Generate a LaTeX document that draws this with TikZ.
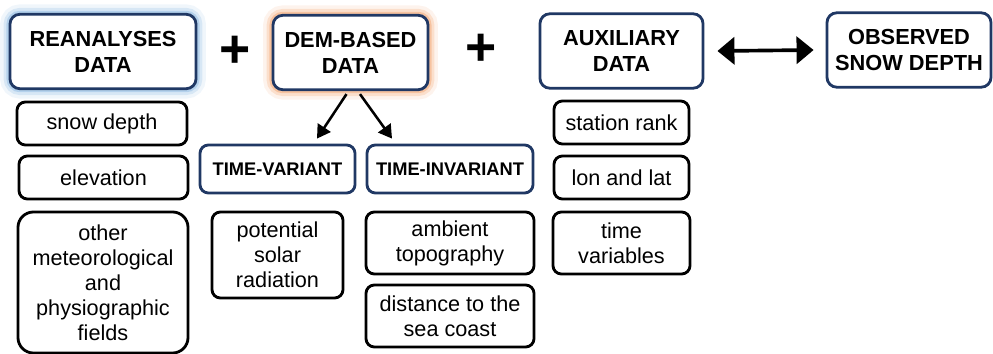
\documentclass[tikz,border=0pt]{standalone}
\usepackage{fontspec}
\setmainfont{Liberation Sans}
\usetikzlibrary{arrows.meta,calc,positioning}
\definecolor{navy}{HTML}{203864}
\definecolor{glowblue}{HTML}{9DC3E6}
\definecolor{gloworange}{HTML}{F4B183}

\tikzset{
	headbox/.style={draw=navy, line width=2pt, rounded corners=7pt, fill=white, align=center,
		inner sep=0pt, font=\fontsize{15.5}{18.5}\selectfont\bfseries},
	itembox/.style={draw=black, line width=2pt, rounded corners=6pt, fill=white, align=center,
		inner sep=0pt, font=\fontsize{15.4}{17.8}\selectfont},
	subbox/.style={draw=navy, line width=2pt, rounded corners=6pt, fill=white, align=center,
		inner sep=0pt, font=\fontsize{13}{15}\selectfont\bfseries},
	glow/.style={preaction={draw=#1, line width=14pt, opacity=0.15},
		preaction={draw=#1, line width=9pt, opacity=0.3},
		preaction={draw=#1, line width=5pt, opacity=0.6}},
}

\begin{document}
\begin{tikzpicture}[x=0.025cm,y=-0.025cm]
	\useasboundingbox (0,0) rectangle (993,354);

	% headers
	\begin{scope}[every node/.style={headbox, minimum height=1.86cm}]
		\node[glow=glowblue, minimum width=4.65cm] (rean) at (103,51.5) {REANALYSES\\DATA};
		\node[glow=gloworange, minimum width=3.875cm] (dem) at (350.5,52.5) {DEM-BASED\\DATA};
		\node[minimum width=4.075cm] (aux) at (621.5,51) {AUXILIARY\\DATA};
		\node[minimum width=4.1cm] (obs) at (909,50) {OBSERVED\\SNOW DEPTH};
	\end{scope}

	\begin{scope}[every node/.style={font=\fontsize{38}{38}\selectfont\bfseries, inner sep=0pt}]
		\node (plusa) at (235,52) {+};
		\node (plusb) at (481,50) {+};
	\end{scope}

	% reanalyses
	\begin{scope}[every node/.style={itembox}]
		\node[minimum width=4.25cm, minimum height=1.075cm] (snow) at (102,123.5) {snow depth};
		\node[minimum width=4.225cm, minimum height=1.075cm] (elev) at (103.5,177.5) {elevation};
		\node[minimum width=4.25cm, minimum height=3.525cm, rounded corners=11pt] (other) at (103,282.5)
			{other\\meteorological\\and\\physiographic\\fields};
	\end{scope}

	% dem-based
	\begin{scope}[every node/.style={subbox, minimum height=1.2cm}]
		\node[minimum width=3.875cm] (tv) at (277.5,169) {TIME-VARIANT};
		\node[minimum width=4.15cm] (ti) at (450,169) {TIME-INVARIANT};
	\end{scope}
	\begin{scope}[every node/.style={itembox}]
		\node[minimum width=3.275cm, minimum height=2.15cm] (pot) at (277.5,255) {potential\\solar\\radiation};
		\node[minimum width=4.2cm, minimum height=1.55cm] (amb) at (450,243) {ambient\\topography};
		\node[minimum width=4.2cm, minimum height=1.55cm] (dist) at (450,316) {distance to the\\sea coast};
	\end{scope}

	% auxiliary
	\begin{scope}[every node/.style={itembox}]
		\node[minimum width=3.375cm, minimum height=1.075cm] (stat) at (621.5,122.5) {station rank};
		\node[minimum width=3.375cm, minimum height=1.075cm] (lonlat) at (621.5,177.5) {lon and lat};
		\node[minimum width=3.425cm, minimum height=1.55cm] (timev) at (621.5,243) {time\\variables};
	\end{scope}

	\begin{scope}[line width=1.8pt]
		\draw[-{Triangle[length=0.33cm, width=0.38cm]}] ($(dem.south)+(-4,3)$) -- ($(tv.north)+(39.5,-5)$);
		\draw[-{Triangle[length=0.33cm, width=0.38cm]}] ($(dem.south)+(9.5,3)$) -- ($(ti.north)+(-58,-5)$);
		\draw[line width=2.6pt, {Triangle[length=0.425cm, width=0.675cm]}-{Triangle[length=0.425cm, width=0.675cm]}]
			($(aux.east)+(13,0)$) -- ($(obs.west)+(-12,0)$);
	\end{scope}
\end{tikzpicture}
\end{document}
